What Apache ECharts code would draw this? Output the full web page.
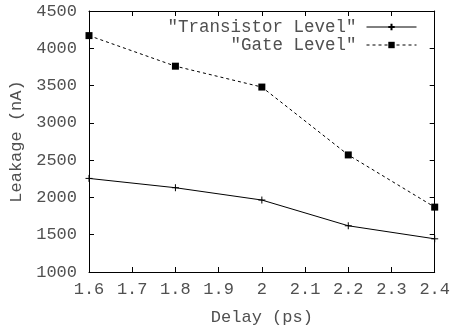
<!DOCTYPE html>
<html><head><meta charset="utf-8">
<script src="https://cdn.jsdelivr.net/npm/echarts@6/dist/echarts.min.js"></script>
<style>html,body{margin:0;padding:0;background:#fff}#c{width:453px;height:331px}</style>
</head><body><div id="c"></div>
<script>
var delays = [1.6, 1.8, 2.0, 2.2, 2.4];
var transistorLevel = [2255, 2130, 1965, 1620, 1445];
var gateLevel = [4170, 3760, 3480, 2570, 1870];
var seriesNames = ['"Transistor Level"', '"Gate Level"'];
var xTitle = 'Delay (ps)';
var yTitle = 'Leakage (nA)';

var font = 'Liberation Mono';
var txt = '#505050';
function pairs(xs, ys){ return xs.map(function(x,i){return [x, ys[i]];}); }
var chart = echarts.init(document.getElementById('c'), null, {renderer:'canvas'});
var axisLine = {show:true, lineStyle:{color:'#000', width:1}};
var tick = {show:true, inside:true, length:5, lineStyle:{color:'#000', width:1}};
function legendOf(name, top){
  return {data:[name], right:36, top:top, itemWidth:50, itemHeight:8, itemGap:0, align:'right', padding:0,
    lineStyle:{width:1},
    textStyle:{fontFamily:font, fontSize:17.5, color:txt, padding:[0,5,0,0]}};
}
chart.setOption({
  animation:false,
  backgroundColor:'#fff',
  grid:{left:89, right:14, top:11, bottom:59, containLabel:false},
  legend:[legendOf(seriesNames[0], 18), legendOf(seriesNames[1], 36)],
  xAxis:[
    {type:'value', min:1.6, max:2.4, interval:0.1, name:xTitle, nameLocation:'middle', nameGap:37,
     nameTextStyle:{fontFamily:font, fontSize:17, color:txt},
     axisLine:axisLine, axisTick:tick, splitLine:{show:false},
     axisLabel:{fontFamily:font, fontSize:17, color:txt, margin:9,
       formatter:function(v){return String(Math.round(v*10)/10);}}},
    {type:'value', position:'top', min:1.6, max:2.4, interval:0.1,
     axisLine:axisLine, axisTick:tick, splitLine:{show:false}, axisLabel:{show:false}}
  ],
  yAxis:[
    {type:'value', min:1000, max:4500, interval:500, name:yTitle, nameLocation:'middle', nameGap:63,
     nameTextStyle:{fontFamily:font, fontSize:17, color:txt},
     axisLine:axisLine, axisTick:tick, splitLine:{show:false},
     axisLabel:{fontFamily:font, fontSize:17, color:txt, margin:12,
       formatter:function(v){return String(v);}}},
    {type:'value', position:'right', min:1000, max:4500, interval:500,
     axisLine:axisLine, axisTick:tick, splitLine:{show:false}, axisLabel:{show:false}}
  ],
  series:[
    {name:seriesNames[0], type:'line', data:pairs(delays, transistorLevel),
     symbol:'path://M0,-5L0,5M-5,0L5,0', symbolSize:7, showAllSymbol:true,
     lineStyle:{color:'#000', width:1, type:'solid'},
     itemStyle:{color:'#000', borderColor:'#000', borderWidth:1}},
    {name:seriesNames[1], type:'line', data:pairs(delays, gateLevel),
     symbol:'rect', symbolSize:7, showAllSymbol:true,
     lineStyle:{color:'#000', width:1, type:[3,3]},
     itemStyle:{color:'#000', borderWidth:0}}
  ]
});
</script></body></html>
